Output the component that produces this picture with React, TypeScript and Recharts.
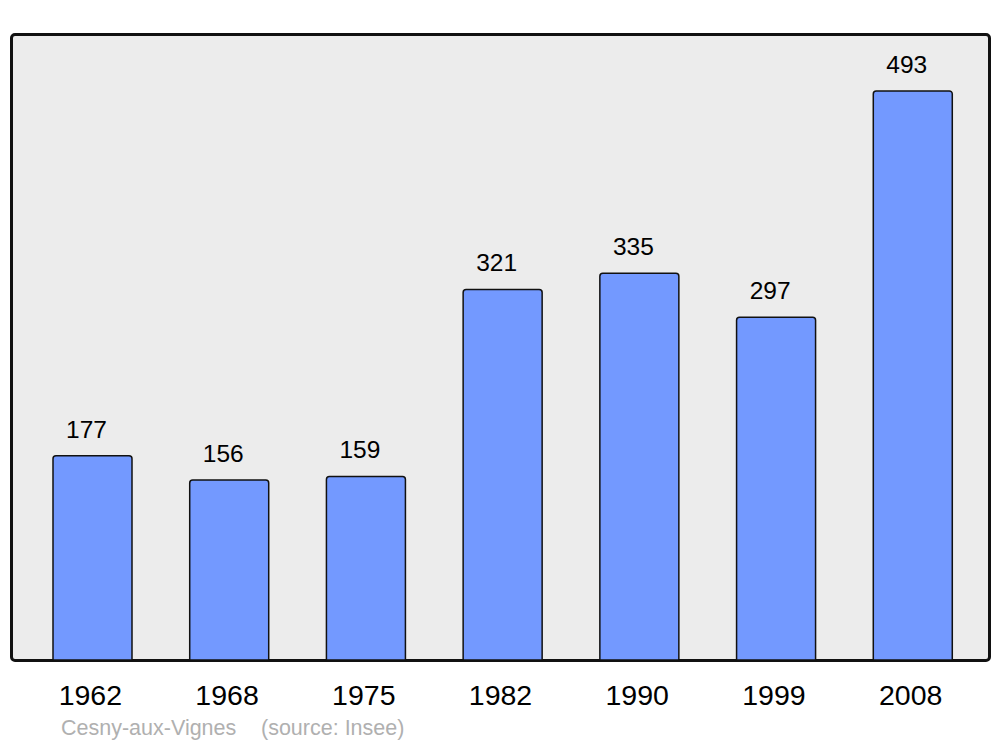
import { BarChart, Bar, XAxis, YAxis, LabelList } from 'recharts'

const years = ['1962', '1968', '1975', '1982', '1990', '1999', '2008']
const population = [177, 156, 159, 321, 335, 297, 493]
const footer = ['Cesny-aux-Vignes', '(source: Insee)']

const data = years.map((year, i) => ({ year, value: population[i] }))

const FONT = '"Liberation Sans", Arial, sans-serif'

function YearTick({ x, y, payload }: any) {
  return (
    <text x={x - 2} y={y + 37} textAnchor="middle" fontFamily={FONT} fontSize={28.5} fill="#000">
      {payload.value}
    </text>
  )
}

function ValueLabel({ x, y, width, value }: any) {
  return (
    <text x={x + width / 2 - 6} y={y - 18} textAnchor="middle" fontFamily={FONT} fontSize={24.5} fill="#000">
      {value}
    </text>
  )
}

export default function App() {
  return (
    <div style={{ position: 'absolute', left: 0, top: 0, width: 1000, height: 747, background: '#fff' }}>
      <div
        style={{
          position: 'absolute',
          left: 9.5,
          top: 32.5,
          width: 981,
          height: 629,
          border: '3px solid #111',
          borderRadius: 5,
          boxSizing: 'border-box',
          background: '#ececec',
        }}
      />
      <div style={{ position: 'absolute', left: 0, top: 0 }}>
        <BarChart width={1000} height={747} data={data} margin={{ top: 34, right: 11, bottom: 57, left: 11 }}>
          <XAxis
            dataKey="year"
            axisLine={false}
            tickLine={false}
            height={30}
            padding={{ left: 13, right: 8 }}
            tick={<YearTick />}
            interval={0}
          />
          <YAxis hide domain={[0, 542.3]} />
          <Bar
            dataKey="value"
            fill="#7399ff"
            stroke="#111"
            strokeWidth={1.5}
            barSize={79}
            radius={[3, 3, 0, 0]}
            isAnimationActive={false}
          >
            <LabelList dataKey="value" content={<ValueLabel />} />
          </Bar>
        </BarChart>
      </div>
      <div style={{ position: 'absolute', left: 61, top: 716, fontFamily: FONT, fontSize: 21.5, color: '#b0b0b0', whiteSpace: 'pre' }}>
        {footer[0]}
        <span style={{ position: 'absolute', left: 200 }}>{footer[1]}</span>
      </div>
    </div>
  )
}
